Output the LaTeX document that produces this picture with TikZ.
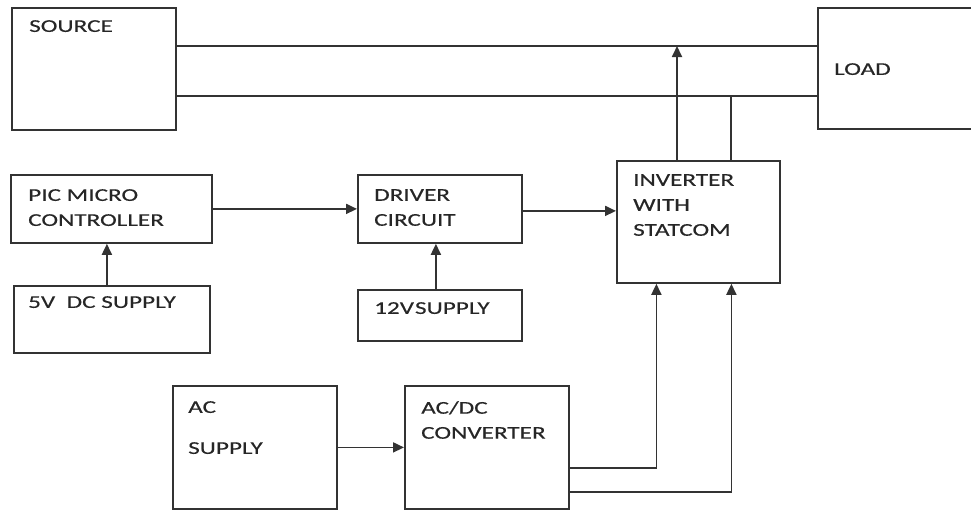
\documentclass[tikz,border=0pt]{standalone}
\usepackage{fontspec}
\setmainfont{Carlito}[FakeStretch=1.4,FakeBold=0.35]
\usetikzlibrary{arrows.meta}
\tikzset{
  box/.style 2 args={draw=black!80,line width=1.8pt,anchor=north west,inner sep=0,
    minimum width=#1,minimum height=#2},
  lbl/.style={anchor=north west,inner sep=0,align=left,text=black!85,
    font=\fontsize{18}{25}\selectfont},
  wire/.style={draw=black!80,line width=1.8pt},
  arr/.style={wire,-{Triangle[length=11pt,width=10pt]}}
}
\begin{document}
\begin{tikzpicture}[x=1pt,y=-1pt]
\useasboundingbox (0,0) rectangle (971,509);
% blocks
\node[box={164}{122},label={[lbl,xshift=18,yshift=-13]north west:SOURCE}] (source) at (11,7) {};
\node[box={160}{121},label={[lbl,xshift=17,yshift=-56]north west:LOAD}] (load) at (817,7) {};
\node[box={163}{122},label={[lbl,xshift=17,yshift=-14]north west:{INVERTER\\WITH\\STATCOM}}] (inv) at (616,160) {};
\node[box={201}{68},label={[lbl,xshift=18,yshift=-15]north west:{PIC MICRO\\CONTROLLER}}] (pic) at (10,174) {};
\node[box={196}{67},label={[lbl,xshift=15,yshift=-11]north west:{5V\ \ DC SUPPLY}}] (v5) at (13,285) {};
\node[box={164}{68},label={[lbl,xshift=17,yshift=-15]north west:{DRIVER\\CIRCUIT}}] (driver) at (357,174) {};
\node[box={164}{51},label={[lbl,xshift=17,yshift=-13]north west:{12V\hspace{1pt}SUPPLY}}] (v12) at (357,289) {};
\node[box={164}{123},label={[lbl,xshift=16,yshift=-16]north west:{AC\\[16pt]SUPPLY}}] (ac) at (172,385) {};
\node[box={164}{123},label={[lbl,xshift=17,yshift=-16]north west:{AC/DC\\CONVERTER}}] (acdc) at (404,385) {};
% lines between source and load
\draw[wire] (source.east |- 0,46) -- (load.west |- 0,46);
\draw[wire] (source.east |- 0,96) -- (load.west |- 0,96);
\coordinate (tap1) at (677,46);
\coordinate (tap2) at (731,96);
% connectors
\draw[arr] (inv.north -| tap1) -- (tap1);
\draw[wire] (inv.north -| tap2) -- (tap2);
\draw[arr] ([xshift=-5]v5.north) -- ([xshift=-5]v5.north |- pic.south);
\draw[arr] ([xshift=-4]v12.north) -- ([xshift=-4]v12.north |- driver.south);
\draw[arr] (pic.east) -- (driver.west);
\draw[arr] ([yshift=-2]driver.east) -- ([yshift=-2]driver.east -| inv.west);
\draw[arr] (ac.east) -- (acdc.west);
\draw[arr] (acdc.east |- 0,468) -| ([xshift=-42]inv.south);
\draw[arr] (acdc.east |- 0,492) -| ([xshift=33]inv.south);
\end{tikzpicture}
\end{document}
